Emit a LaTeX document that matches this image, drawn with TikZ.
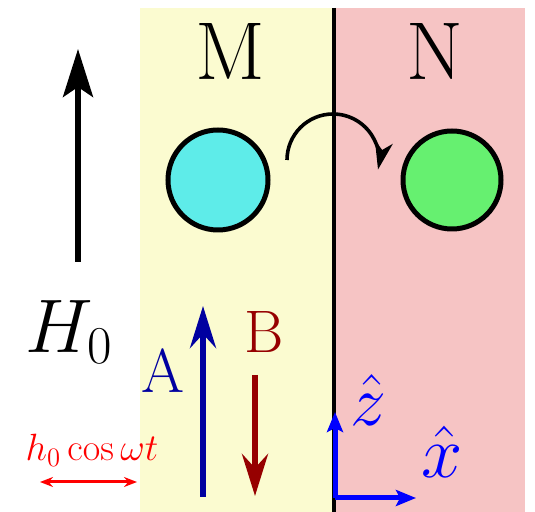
\RequirePackage{fix-cm}
\documentclass[tikz,border=0pt]{standalone}
\usepackage{amsmath}
\usetikzlibrary{arrows.meta}
\definecolor{fondoM}{RGB}{251,251,208}
\definecolor{fondoN}{RGB}{246,196,196}
\definecolor{cianM}{RGB}{94,236,233}
\definecolor{verdeN}{RGB}{102,240,112}
\definecolor{azulA}{RGB}{0,0,160}
\definecolor{rojoB}{RGB}{150,0,0}
\newcommand{\tam}[1]{\fontsize{#1}{1.2\dimexpr#1\relax}\selectfont}

\begin{document}
\begin{tikzpicture}[x=0.5pt,y=-0.5pt,line width=1.5pt,>={Stealth[length=24pt,width=15pt,inset=5pt]}]
  \useasboundingbox (0,0) rectangle (535,512);
  % dominios M y N
  \fill[fondoM] (140,8) rectangle (333,512);
  \fill[fondoN] (333,8) rectangle (525,512);
  \draw[line width=1.6pt] (334,8)--(334,512);
  \node (lM) at (230,52){\tam{41pt}M};
  \node (lN) at (435,52){\tam{41pt}N};
  % particulas
  \node[circle,draw,line width=2.5pt,fill=cianM,minimum size=50pt] (cM) at (218,180){};
  \node[circle,draw,line width=2.5pt,fill=verdeN,minimum size=49pt] (cN) at (452,180){};
  % salto de M a N
  \coordinate (salto) at (287,160);
  \draw[->,line width=1.8pt,>={Stealth[length=14pt,width=9pt,inset=4pt]}] (salto) arc[start angle=180,end angle=372,radius=46];
  % campo H_0
  \coordinate (Hbase) at (78,262); \coordinate (Hpunta) at (78,49);
  \draw[->,line width=2.6pt] (Hbase)--(Hpunta);
  \node[inner sep=0pt] (lH) at (69,332){\tam{38pt}$H_0$};
  % sentidos A y B
  \coordinate (Abase) at (203,497); \coordinate (Apunta) at (203,306);
  \draw[->,azulA,line width=3pt,>={Stealth[length=21pt,width=13pt,inset=7pt]}] (Abase)--(Apunta);
  \node[text=azulA,inner sep=0pt] (lA) at (163,371){\tam{31pt}A};
  \coordinate (Bbase) at (255,375); \coordinate (Bpunta) at (255,496);
  \draw[->,rojoB,line width=3pt,>={Stealth[length=21pt,width=13pt,inset=7pt]}] (Bbase)--(Bpunta);
  \node[text=rojoB,inner sep=0pt] (lB) at (264,332){\tam{30pt}B};
  % campo oscilante
  \coordinate (hizq) at (40,482); \coordinate (hder) at (137,482);
  \draw[<->,red,line width=1.5pt,>={Stealth[length=6.5pt,width=5pt]}] (hizq)--(hder);
  \node[text=red,inner sep=0pt] (lh) at (92,450){\tam{19pt}$h_0\cos\omega t$};
  % ejes
  \coordinate (origen) at (335,498); \coordinate (ejez) at (335,412); \coordinate (ejex) at (416,498);
  \draw[->,blue,line width=2.5pt,>={Stealth[length=10pt,width=8pt,inset=2pt]}] (origen)--(ejez);
  \draw[->,blue,line width=2.5pt,>={Stealth[length=10pt,width=8pt,inset=2pt]}] (origen)--(ejex);
  \node[text=blue,inner sep=0pt] (lz) at (368,400){\tam{36pt}$\hat z$};
  \node[text=blue,inner sep=0pt] (lx) at (442,452){\tam{37pt}$\hat x$};
\end{tikzpicture}
\end{document}
